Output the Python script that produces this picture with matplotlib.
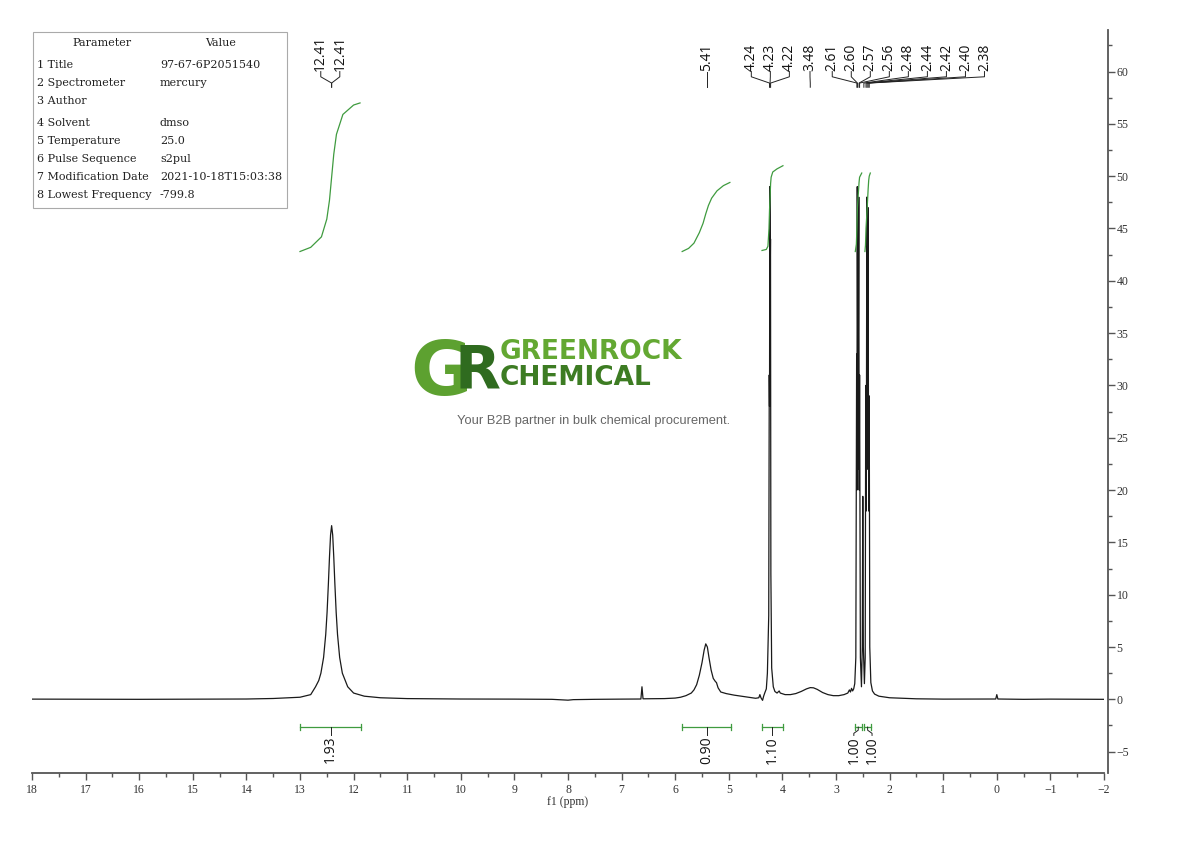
import numpy as np
import matplotlib
matplotlib.use("Agg")
import matplotlib.pyplot as plt
from matplotlib.patches import Rectangle

# spectrum trace (ppm, intensity)
spec_ppm = [18.0, 16.0, 14.0, 13.5, 13.2, 13.0, 12.8, 12.71, 12.65, 12.61, 12.56, 12.52, 12.495,
            12.47, 12.45, 12.43, 12.41, 12.39, 12.37, 12.35, 12.325, 12.30, 12.26, 12.21, 12.11,
            12.0, 11.8, 11.5, 11.0, 10.0, 9.0, 8.3, 8.1, 8.0, 7.9, 7.5, 7.0, 6.7, 6.64, 6.62, 6.60,
            6.2, 6.0, 5.9, 5.8, 5.7, 5.65, 5.6, 5.55, 5.5, 5.46, 5.43, 5.40, 5.37, 5.33, 5.29, 5.25,
            5.23, 5.20, 5.15, 5.05, 4.9, 4.7, 4.5, 4.44, 4.42, 4.40, 4.37, 4.35, 4.33, 4.30, 4.28,
            4.255, 4.245, 4.24, 4.235, 4.228, 4.222, 4.215, 4.20, 4.17, 4.14, 4.10, 4.06, 4.04, 3.95,
            3.85, 3.75, 3.65, 3.55, 3.48, 3.42, 3.35, 3.25, 3.15, 3.05, 2.95, 2.85, 2.78, 2.75, 2.73,
            2.71, 2.69, 2.67, 2.65, 2.63, 2.615, 2.61, 2.603, 2.59, 2.575, 2.567, 2.56, 2.545, 2.525,
            2.51, 2.50, 2.49, 2.47, 2.455, 2.445, 2.435, 2.425, 2.413, 2.403, 2.39, 2.38, 2.37, 2.35,
            2.32, 2.28, 2.2, 2.0, 1.5, 1.0, 0.5, 0.02, 0.0, -0.02, -0.5, -1.0, -2.0]
spec_int = [0.02, 0.0, 0.03, 0.08, 0.15, 0.2, 0.45, 1.2, 1.8, 2.5, 4.0, 6.2, 8.3,
            11.1, 13.6, 15.7, 16.6, 15.7, 13.6, 11.1, 8.3, 6.2, 4.0, 2.5, 1.2,
            0.6, 0.3, 0.15, 0.07, 0.03, 0.02, 0.0, -0.06, -0.08, -0.03, 0.0, 0.02, 0.02, 0.03, 1.2, 0.05,
            0.07, 0.12, 0.2, 0.35, 0.6, 0.9, 1.4, 2.3, 3.5, 4.7, 5.3, 5.0, 4.0, 2.8, 2.0, 1.7,
            1.6, 1.1, 0.7, 0.55, 0.4, 0.25, 0.1, 0.15, 0.45, 0.15, -0.1, 0.3, 0.6, 1.0, 2.5,
            8.0, 31.0, 28.0, 49.0, 40.0, 44.0, 12.0, 3.0, 1.2, 0.75, 0.6, 0.8, 0.6, 0.45,
            0.45, 0.55, 0.75, 1.0, 1.12, 1.1, 0.95, 0.65, 0.45, 0.35, 0.35, 0.45, 0.6, 0.9, 0.7,
            1.05, 0.8, 1.0, 1.5, 4.0, 33.0, 20.0, 49.0, 22.0, 48.0, 20.0, 31.0, 4.0, 1.2,
            5.0, 19.4, 5.0, 1.5, 4.0, 30.0, 18.0, 48.0, 22.0, 47.0, 18.0, 29.0, 5.0, 1.6,
            0.8, 0.5, 0.3, 0.15, 0.05, 0.02, 0.02, 0.03, 0.45, 0.03, 0.0, 0.02, 0.0]

# integral curves
integral_ppm = [
    [13.0, 12.8, 12.6, 12.5, 12.45, 12.41, 12.37, 12.32, 12.2, 12.0, 11.88],
    [5.87, 5.75, 5.65, 5.55, 5.48, 5.43, 5.38, 5.32, 5.22, 5.10, 4.98],
    [4.38, 4.30, 4.27, 4.25, 4.24, 4.23, 4.22, 4.21, 4.18, 4.10, 3.99],
    [2.64, 2.62, 2.61, 2.60, 2.58, 2.57, 2.56, 2.53, 2.52],
    [2.46, 2.45, 2.44, 2.42, 2.40, 2.39, 2.38, 2.36],
]
integral_y = [
    [42.8, 43.2, 44.2, 45.9, 47.7, 49.9, 52.1, 54.0, 55.9, 56.8, 57.0],
    [42.8, 43.1, 43.6, 44.6, 45.5, 46.4, 47.2, 47.9, 48.6, 49.1, 49.4],
    [42.9, 43.0, 43.3, 45.0, 46.8, 48.0, 49.3, 49.9, 50.4, 50.7, 51.0],
    [42.8, 43.5, 45.0, 47.0, 48.6, 49.4, 49.9, 50.2, 50.3],
    [42.8, 43.4, 45.0, 46.8, 48.8, 49.6, 50.0, 50.3],
]

# integration ranges
int_start = [13.0, 5.87, 4.38, 2.65, 2.47]
int_end = [11.86, 4.96, 3.99, 2.52, 2.35]
int_values = [1.93, 0.90, 1.10, 1.00, 1.00]

# peak picking
peak_groups = [[12.41, 12.41], [5.41], [4.24, 4.23, 4.22], [3.48],
               [2.61, 2.60, 2.57, 2.56, 2.48, 2.44, 2.42, 2.40, 2.38]]
group_centres = [12.435, 5.41, 4.225, 3.485, 1.65]

params = ["1 Title", "2 Spectrometer", "3 Author", "4 Solvent", "5 Temperature",
          "6 Pulse Sequence", "7 Modification Date", "8 Lowest Frequency"]
values = ["97-67-6P2051540", "mercury", "", "dmso", "25.0", "s2pul",
          "2021-10-18T15:03:38", "-799.8"]

W, H = 1190, 841
green = "#3f9b3f"
serif = "Liberation Serif"
table_font = "DejaVu Serif"

fig = plt.figure(figsize=(W / 100, H / 100), dpi=100)
ax = fig.add_axes([32 / W, 1 - 773.3 / H, (1104 - 32) / W, (773.3 - 29.7) / H])

ax.plot(spec_ppm, spec_int, color="#1a1a1a", lw=0.9, zorder=3)
for xs, ys in zip(integral_ppm, integral_y):
    ax.plot(xs, ys, color=green, lw=0.9, zorder=4)

ax.set_xlim(18, -2)
ax.set_ylim(-7.07, 64.0)

# peak labels with connector lines
step = 0.355
for peaks, c in zip(peak_groups, group_centres):
    n = len(peaks)
    for i, p in enumerate(peaks):
        lx = c + ((n - 1) / 2 - i) * step
        ax.plot([lx, lx, p, p], [60.0, 59.5, 58.9, 58.5], color="#222", lw=0.7)
        ax.text(lx, 60.1, f"{p:.2f}", rotation=90, ha="center", va="bottom",
                fontsize=10, family="Open Sans", color="#111")

# integration bars
mids = [(a + b) / 2 for a, b in zip(int_start, int_end)]
lab_x = list(mids)
if abs(lab_x[3] - lab_x[4]) < 0.33:
    m = (lab_x[3] + lab_x[4]) / 2
    lab_x[3], lab_x[4] = m + 0.17, m - 0.17
for a, b, v, mx, lx in zip(int_start, int_end, int_values, mids, lab_x):
    ax.plot([a, b], [-2.65, -2.65], color=green, lw=0.9)
    for e in (a, b):
        ax.plot([e, e], [-2.35, -2.95], color=green, lw=0.9)
    ax.plot([mx, mx, lx, lx], [-2.65, -2.95, -3.25, -3.45], color="#222", lw=0.7)
    ax.text(lx, -3.5, f"{v:.2f}", rotation=90, ha="center", va="top",
            fontsize=10, family="Open Sans", color="#111")

# axes styling
for s in ("left", "top"):
    ax.spines[s].set_visible(False)
for s in ("bottom", "right"):
    ax.spines[s].set_color("#555")
    ax.spines[s].set_linewidth(1.3)
ax.spines["right"].set_position(("outward", 3))
ax.yaxis.tick_right()
ax.set_xticks(np.arange(18, -3, -1))
ax.set_xticks(np.arange(17.5, -2, -1), minor=True)
ax.set_yticks(np.arange(-5, 61, 5))
ax.set_yticks(np.arange(-2.5, 63, 5), minor=True)
ax.tick_params(which="major", direction="out", length=5, width=1, color="#555",
               labelsize=8.5, labelcolor="#333")
ax.tick_params(which="minor", direction="out", length=3, width=1, color="#555")
for lab in ax.get_xticklabels() + ax.get_yticklabels():
    lab.set_family(serif)
ax.tick_params(axis="y", pad=1)
ax.tick_params(axis="x", pad=2.5)
ax.set_xlabel("f1 (ppm)", fontsize=8.5, family=serif, color="#333", labelpad=0.5)

# parameter table
fig.patches.append(Rectangle((33 / W, 1 - 208 / H), 254 / W, 176 / H, transform=fig.transFigure,
                             fill=False, edgecolor="#aaa", lw=0.8))
fig.text(102 / W, 1 - 43 / H, "Parameter", ha="center", va="center", fontsize=8,
         family=table_font, color="#222")
fig.text(221 / W, 1 - 43 / H, "Value", ha="center", va="center", fontsize=8,
         family=table_font, color="#222")
row_y = [65, 83, 101, 123, 141, 159, 177, 195]
for ry, p, v in zip(row_y, params, values):
    fig.text(37 / W, 1 - ry / H, p, ha="left", va="center", fontsize=8, family=table_font, color="#222")
    fig.text(160 / W, 1 - ry / H, v, ha="left", va="center", fontsize=8, family=table_font, color="#222")

# watermark logo
fig.text(441 / W, 1 - 375 / H, "G", ha="center", va="center", fontsize=54, weight="bold",
         family="DejaVu Sans", color="#5da130")
fig.text(477 / W, 1 - 372 / H, "R", ha="center", va="center", fontsize=43, weight="bold",
         family="DejaVu Sans", color="#2f6b1f")
fig.text(500 / W, 1 - 352 / H, "GREENROCK", ha="left", va="center", fontsize=19, weight="bold",
         family="DejaVu Sans", color="#63a832")
fig.text(500 / W, 1 - 378 / H, "CHEMICAL", ha="left", va="center", fontsize=19, weight="bold",
         family="DejaVu Sans", color="#3d7c23")
fig.text(594 / W, 1 - 421 / H, "Your B2B partner in bulk chemical procurement.", ha="center",
         va="center", fontsize=9.3, family="Liberation Sans", color="#666")

fig.savefig("out.png", dpi=100)
